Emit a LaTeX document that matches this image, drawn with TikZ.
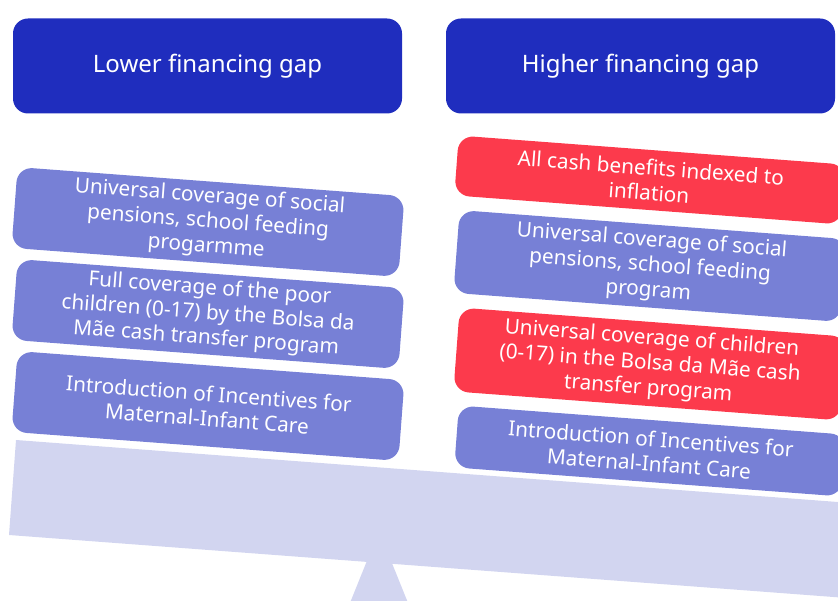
\documentclass[tikz,border=0pt]{standalone}
\usepackage{fontspec}
\setmainfont{Noto Sans}
\definecolor{gapblue}{HTML}{1F2DBE}
\definecolor{itemblue}{HTML}{7780D6}
\definecolor{itemred}{HTML}{FC3A4C}
\definecolor{beamcol}{HTML}{D2D5F0}
\begin{document}
\begin{tikzpicture}[x=1pt, y=-1pt,
    head/.style = {fill=gapblue, rounded corners=15pt, minimum width=389pt, minimum height=95pt, text=white, font=\fontsize{24}{29}\selectfont},
    item/.style = {fill=itemblue, rounded corners=15pt, rotate=-4.3, minimum width=388pt, inner sep=0pt, text=white, align=center, font=\fontsize{20.8}{25}\selectfont},
    cost/.style = {item, fill=itemred}
    ]
    \useasboundingbox (0,0) rectangle (838,601);
    \clip (0,0) rectangle (838,601);

    % scale: fulcrum and beam
    \fill[beamcol] (379,531) -- (335,640) -- (423,640) -- cycle;
    \fill[beamcol] (16,440) -- (900,506.7) -- (900,602) -- (9,535) -- cycle;

    \node[head] (0) at (207.5,66) {Lower financing gap};
    \node[head] (1) at (640.5,66) {Higher financing gap};

    % left pan
    \node[item, minimum height=81pt] (2) at (208,222) {Universal coverage of social\\pensions, school feeding\\progarmme};
    \node[item, minimum height=81pt] (3) at (208,314) {Full coverage of the poor\\children (0-17) by the Bolsa da\\Mãe cash transfer program};
    \node[item, minimum height=81pt] (4) at (208,406) {Introduction of Incentives for\\Maternal-Infant Care};

    % right pan
    \node[cost, minimum height=60pt] (5) at (650,180) {All cash benefits indexed to\\inflation};
    \node[item, minimum height=83pt] (6) at (650,266) {Universal coverage of social\\pensions, school feeding\\program};
    \node[cost, minimum height=84pt] (7) at (650,364) {Universal coverage of children\\(0-17) in the Bolsa da Mãe cash\\transfer program};
    \node[item, minimum height=62pt] (8) at (650,451) {Introduction of Incentives for\\Maternal-Infant Care};

\end{tikzpicture}
\end{document}
